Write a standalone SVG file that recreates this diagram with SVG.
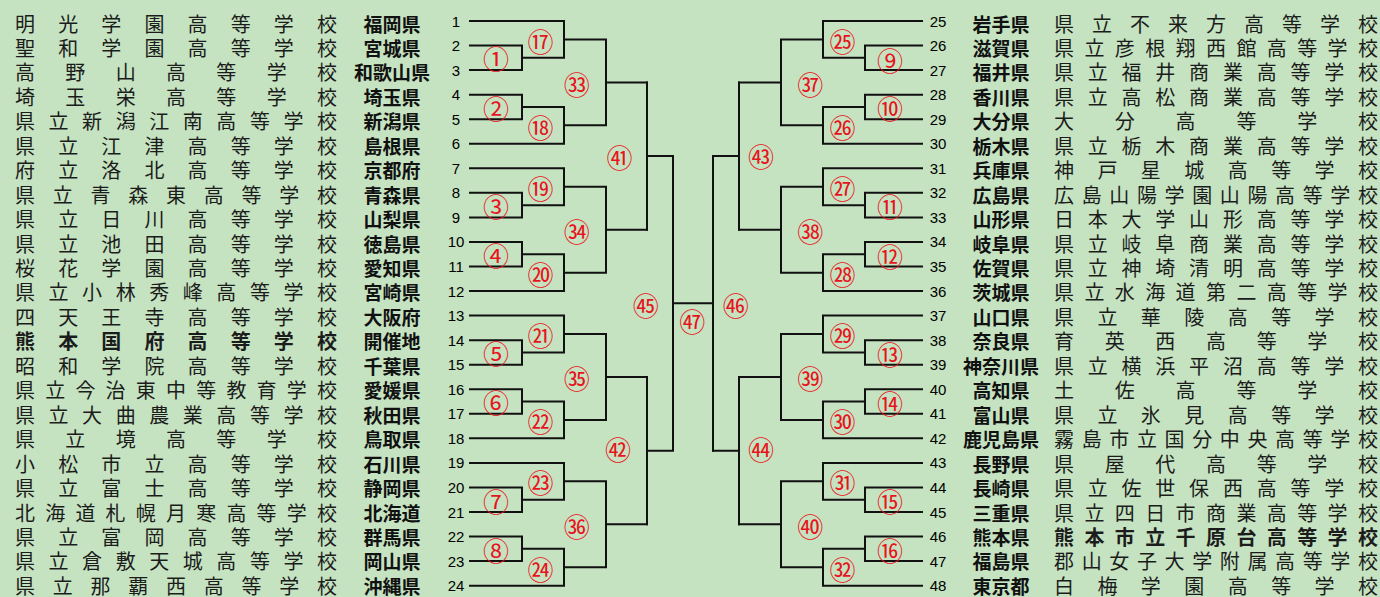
<svg xmlns="http://www.w3.org/2000/svg" width="1380" height="597" viewBox="0 0 1380 597">
<style>
.bg{fill:#c5e3c1}
.s{font-family:"Noto Sans CJK JP","Noto Sans CJK SC",sans-serif;font-size:20px;fill:#1c1c1c;dominant-baseline:central}
.b{font-weight:700}
.p{font-family:"Noto Sans CJK JP","Noto Sans CJK SC",sans-serif;font-size:19px;font-weight:700;fill:#111;text-anchor:middle;dominant-baseline:central}
.n{font-family:"Liberation Sans",Arial,sans-serif;font-size:15px;fill:#000;text-anchor:middle;dominant-baseline:central}
.m{font-family:"Noto Sans CJK JP","Noto Sans CJK SC",sans-serif;font-size:26px;fill:#e8131c;text-anchor:middle;dominant-baseline:central}
.ln{fill:none;stroke:#111;stroke-width:2;stroke-linecap:square}
</style>
<rect class="bg" x="0" y="0" width="1380" height="597"/>
<g id="connectors" class="ln">
<path d="M470,45.55H522V70.1H470M522,57.83H564M470,21H564V57.83M564,39.41H606M470,94.65H522V119.2H470M522,106.93H564M470,143.75H564V106.93M564,125.34H606M606,39.41V125.34M606,82.38H647"/>
<path d="M470,192.85H522V217.4H470M522,205.13H564M470,168.3H564V205.13M564,186.71H606M470,241.95H522V266.5H470M522,254.23H564M470,291.05H564V254.23M564,272.64H606M606,186.71V272.64M606,229.68H647"/>
<path d="M470,340.15H522V364.7H470M522,352.43H564M470,315.6H564V352.43M564,334.01H606M470,389.25H522V413.8H470M522,401.53H564M470,438.35H564V401.53M564,419.94H606M606,334.01V419.94M606,376.98H647"/>
<path d="M470,487.45H522V512H470M522,499.73H564M470,462.9H564V499.73M564,481.31H606M470,536.55H522V561.1H470M522,548.83H564M470,585.65H564V548.83M564,567.24H606M606,481.31V567.24M606,524.28H647"/>
<path d="M647,82.38V229.68M647,156.03H673M647,376.98V524.28M647,450.63H673M673,156.03V450.63M673,303.33H713M713,156.03V450.63"/>
<path d="M922,45.55H865V70.1H922M865,57.83H823M922,21H823V57.83M823,39.41H781M922,94.65H865V119.2H922M865,106.93H823M922,143.75H823V106.93M823,125.34H781M781,39.41V125.34M781,82.38H739"/>
<path d="M922,192.85H865V217.4H922M865,205.13H823M922,168.3H823V205.13M823,186.71H781M922,241.95H865V266.5H922M865,254.23H823M922,291.05H823V254.23M823,272.64H781M781,186.71V272.64M781,229.68H739"/>
<path d="M922,340.15H865V364.7H922M865,352.43H823M922,315.6H823V352.43M823,334.01H781M922,389.25H865V413.8H922M865,401.53H823M922,438.35H823V401.53M823,419.94H781M781,334.01V419.94M781,376.98H739"/>
<path d="M922,487.45H865V512H922M865,499.73H823M922,462.9H823V499.73M823,481.31H781M922,536.55H865V561.1H922M865,548.83H823M922,585.65H823V548.83M823,567.24H781M781,481.31V567.24M781,524.28H739"/>
<path d="M739,82.38V229.68M739,156.03H713M739,376.98V524.28M739,450.63H713"/>
</g>
<g id="teams-left">
<g id="t1"><text class="s" x="15" y="23" textLength="322" lengthAdjust="spacing">明光学園高等学校</text><text class="p" x="392" y="23">福岡県</text><text class="n" x="456" y="21">1</text></g>
<g id="t2"><text class="s" x="15" y="47.45" textLength="322" lengthAdjust="spacing">聖和学園高等学校</text><text class="p" x="392" y="47.45">宮城県</text><text class="n" x="456" y="45.55">2</text></g>
<g id="t3"><text class="s" x="15" y="71.9" textLength="322" lengthAdjust="spacing">高野山高等学校</text><text class="p" x="392" y="71.9">和歌山県</text><text class="n" x="456" y="70.1">3</text></g>
<g id="t4"><text class="s" x="15" y="96.35" textLength="322" lengthAdjust="spacing">埼玉栄高等学校</text><text class="p" x="392" y="96.35">埼玉県</text><text class="n" x="456" y="94.65">4</text></g>
<g id="t5"><text class="s" x="15" y="120.8" textLength="322" lengthAdjust="spacing">県立新潟江南高等学校</text><text class="p" x="392" y="120.8">新潟県</text><text class="n" x="456" y="119.2">5</text></g>
<g id="t6"><text class="s" x="15" y="145.25" textLength="322" lengthAdjust="spacing">県立江津高等学校</text><text class="p" x="392" y="145.25">島根県</text><text class="n" x="456" y="143.75">6</text></g>
<g id="t7"><text class="s" x="15" y="169.7" textLength="322" lengthAdjust="spacing">府立洛北高等学校</text><text class="p" x="392" y="169.7">京都府</text><text class="n" x="456" y="168.3">7</text></g>
<g id="t8"><text class="s" x="15" y="194.15" textLength="322" lengthAdjust="spacing">県立青森東高等学校</text><text class="p" x="392" y="194.15">青森県</text><text class="n" x="456" y="192.85">8</text></g>
<g id="t9"><text class="s" x="15" y="218.6" textLength="322" lengthAdjust="spacing">県立日川高等学校</text><text class="p" x="392" y="218.6">山梨県</text><text class="n" x="456" y="217.4">9</text></g>
<g id="t10"><text class="s" x="15" y="243.05" textLength="322" lengthAdjust="spacing">県立池田高等学校</text><text class="p" x="392" y="243.05">徳島県</text><text class="n" x="456" y="241.95">10</text></g>
<g id="t11"><text class="s" x="15" y="267.5" textLength="322" lengthAdjust="spacing">桜花学園高等学校</text><text class="p" x="392" y="267.5">愛知県</text><text class="n" x="456" y="266.5">11</text></g>
<g id="t12"><text class="s" x="15" y="291.95" textLength="322" lengthAdjust="spacing">県立小林秀峰高等学校</text><text class="p" x="392" y="291.95">宮崎県</text><text class="n" x="456" y="291.05">12</text></g>
<g id="t13"><text class="s" x="15" y="316.4" textLength="322" lengthAdjust="spacing">四天王寺高等学校</text><text class="p" x="392" y="316.4">大阪府</text><text class="n" x="456" y="315.6">13</text></g>
<g id="t14"><text class="s b" x="15" y="340.85" textLength="322" lengthAdjust="spacing">熊本国府高等学校</text><text class="p" x="392" y="340.85">開催地</text><text class="n" x="456" y="340.15">14</text></g>
<g id="t15"><text class="s" x="15" y="365.3" textLength="322" lengthAdjust="spacing">昭和学院高等学校</text><text class="p" x="392" y="365.3">千葉県</text><text class="n" x="456" y="364.7">15</text></g>
<g id="t16"><text class="s" x="15" y="389.75" textLength="322" lengthAdjust="spacing">県立今治東中等教育学校</text><text class="p" x="392" y="389.75">愛媛県</text><text class="n" x="456" y="389.25">16</text></g>
<g id="t17"><text class="s" x="15" y="414.2" textLength="322" lengthAdjust="spacing">県立大曲農業高等学校</text><text class="p" x="392" y="414.2">秋田県</text><text class="n" x="456" y="413.8">17</text></g>
<g id="t18"><text class="s" x="15" y="438.65" textLength="322" lengthAdjust="spacing">県立境高等学校</text><text class="p" x="392" y="438.65">鳥取県</text><text class="n" x="456" y="438.35">18</text></g>
<g id="t19"><text class="s" x="15" y="463.1" textLength="322" lengthAdjust="spacing">小松市立高等学校</text><text class="p" x="392" y="463.1">石川県</text><text class="n" x="456" y="462.9">19</text></g>
<g id="t20"><text class="s" x="15" y="487.55" textLength="322" lengthAdjust="spacing">県立富士高等学校</text><text class="p" x="392" y="487.55">静岡県</text><text class="n" x="456" y="487.45">20</text></g>
<g id="t21"><text class="s" x="15" y="512" textLength="322" lengthAdjust="spacing">北海道札幌月寒高等学校</text><text class="p" x="392" y="512">北海道</text><text class="n" x="456" y="512">21</text></g>
<g id="t22"><text class="s" x="15" y="536.45" textLength="322" lengthAdjust="spacing">県立富岡高等学校</text><text class="p" x="392" y="536.45">群馬県</text><text class="n" x="456" y="536.55">22</text></g>
<g id="t23"><text class="s" x="15" y="560.9" textLength="322" lengthAdjust="spacing">県立倉敷天城高等学校</text><text class="p" x="392" y="560.9">岡山県</text><text class="n" x="456" y="561.1">23</text></g>
<g id="t24"><text class="s" x="15" y="585.35" textLength="322" lengthAdjust="spacing">県立那覇西高等学校</text><text class="p" x="392" y="585.35">沖縄県</text><text class="n" x="456" y="585.65">24</text></g>
</g>
<g id="teams-right">
<g id="t25"><text class="n" x="938" y="21">25</text><text class="p" x="1001" y="23">岩手県</text><text class="s" x="1054" y="23" textLength="324" lengthAdjust="spacing">県立不来方高等学校</text></g>
<g id="t26"><text class="n" x="938" y="45.55">26</text><text class="p" x="1001" y="47.45">滋賀県</text><text class="s" x="1054" y="47.45" textLength="324" lengthAdjust="spacing">県立彦根翔西館高等学校</text></g>
<g id="t27"><text class="n" x="938" y="70.1">27</text><text class="p" x="1001" y="71.9">福井県</text><text class="s" x="1054" y="71.9" textLength="324" lengthAdjust="spacing">県立福井商業高等学校</text></g>
<g id="t28"><text class="n" x="938" y="94.65">28</text><text class="p" x="1001" y="96.35">香川県</text><text class="s" x="1054" y="96.35" textLength="324" lengthAdjust="spacing">県立高松商業高等学校</text></g>
<g id="t29"><text class="n" x="938" y="119.2">29</text><text class="p" x="1001" y="120.8">大分県</text><text class="s" x="1054" y="120.8" textLength="324" lengthAdjust="spacing">大分高等学校</text></g>
<g id="t30"><text class="n" x="938" y="143.75">30</text><text class="p" x="1001" y="145.25">栃木県</text><text class="s" x="1054" y="145.25" textLength="324" lengthAdjust="spacing">県立栃木商業高等学校</text></g>
<g id="t31"><text class="n" x="938" y="168.3">31</text><text class="p" x="1001" y="169.7">兵庫県</text><text class="s" x="1054" y="169.7" textLength="324" lengthAdjust="spacing">神戸星城高等学校</text></g>
<g id="t32"><text class="n" x="938" y="192.85">32</text><text class="p" x="1001" y="194.15">広島県</text><text class="s" x="1054" y="194.15" textLength="324" lengthAdjust="spacing">広島山陽学園山陽高等学校</text></g>
<g id="t33"><text class="n" x="938" y="217.4">33</text><text class="p" x="1001" y="218.6">山形県</text><text class="s" x="1054" y="218.6" textLength="324" lengthAdjust="spacing">日本大学山形高等学校</text></g>
<g id="t34"><text class="n" x="938" y="241.95">34</text><text class="p" x="1001" y="243.05">岐阜県</text><text class="s" x="1054" y="243.05" textLength="324" lengthAdjust="spacing">県立岐阜商業高等学校</text></g>
<g id="t35"><text class="n" x="938" y="266.5">35</text><text class="p" x="1001" y="267.5">佐賀県</text><text class="s" x="1054" y="267.5" textLength="324" lengthAdjust="spacing">県立神埼清明高等学校</text></g>
<g id="t36"><text class="n" x="938" y="291.05">36</text><text class="p" x="1001" y="291.95">茨城県</text><text class="s" x="1054" y="291.95" textLength="324" lengthAdjust="spacing">県立水海道第二高等学校</text></g>
<g id="t37"><text class="n" x="938" y="315.6">37</text><text class="p" x="1001" y="316.4">山口県</text><text class="s" x="1054" y="316.4" textLength="324" lengthAdjust="spacing">県立華陵高等学校</text></g>
<g id="t38"><text class="n" x="938" y="340.15">38</text><text class="p" x="1001" y="340.85">奈良県</text><text class="s" x="1054" y="340.85" textLength="324" lengthAdjust="spacing">育英西高等学校</text></g>
<g id="t39"><text class="n" x="938" y="364.7">39</text><text class="p" x="1001" y="365.3">神奈川県</text><text class="s" x="1054" y="365.3" textLength="324" lengthAdjust="spacing">県立横浜平沼高等学校</text></g>
<g id="t40"><text class="n" x="938" y="389.25">40</text><text class="p" x="1001" y="389.75">高知県</text><text class="s" x="1054" y="389.75" textLength="324" lengthAdjust="spacing">土佐高等学校</text></g>
<g id="t41"><text class="n" x="938" y="413.8">41</text><text class="p" x="1001" y="414.2">富山県</text><text class="s" x="1054" y="414.2" textLength="324" lengthAdjust="spacing">県立氷見高等学校</text></g>
<g id="t42"><text class="n" x="938" y="438.35">42</text><text class="p" x="1001" y="438.65">鹿児島県</text><text class="s" x="1054" y="438.65" textLength="324" lengthAdjust="spacing">霧島市立国分中央高等学校</text></g>
<g id="t43"><text class="n" x="938" y="462.9">43</text><text class="p" x="1001" y="463.1">長野県</text><text class="s" x="1054" y="463.1" textLength="324" lengthAdjust="spacing">県屋代高等学校</text></g>
<g id="t44"><text class="n" x="938" y="487.45">44</text><text class="p" x="1001" y="487.55">長崎県</text><text class="s" x="1054" y="487.55" textLength="324" lengthAdjust="spacing">県立佐世保西高等学校</text></g>
<g id="t45"><text class="n" x="938" y="512">45</text><text class="p" x="1001" y="512">三重県</text><text class="s" x="1054" y="512" textLength="324" lengthAdjust="spacing">県立四日市商業高等学校</text></g>
<g id="t46"><text class="n" x="938" y="536.55">46</text><text class="p" x="1001" y="536.45">熊本県</text><text class="s b" x="1054" y="536.45" textLength="324" lengthAdjust="spacing">熊本市立千原台高等学校</text></g>
<g id="t47"><text class="n" x="938" y="561.1">47</text><text class="p" x="1001" y="560.9">福島県</text><text class="s" x="1054" y="560.9" textLength="324" lengthAdjust="spacing">郡山女子大学附属高等学校</text></g>
<g id="t48"><text class="n" x="938" y="585.65">48</text><text class="p" x="1001" y="585.35">東京都</text><text class="s" x="1054" y="585.35" textLength="324" lengthAdjust="spacing">白梅学園高等学校</text></g>
</g>
<g id="matches">
<g id="m1"><text class="m" x="496" y="57.8">①</text></g>
<g id="m2"><text class="m" x="496" y="107">②</text></g>
<g id="m3"><text class="m" x="496" y="205">③</text></g>
<g id="m4"><text class="m" x="496" y="254">④</text></g>
<g id="m5"><text class="m" x="496" y="352.4">⑤</text></g>
<g id="m6"><text class="m" x="496" y="401.5">⑥</text></g>
<g id="m7"><text class="m" x="496" y="500">⑦</text></g>
<g id="m8"><text class="m" x="496" y="549">⑧</text></g>
<g id="m9"><text class="m" x="890" y="59">⑨</text></g>
<g id="m10"><text class="m" x="890" y="107">⑩</text></g>
<g id="m11"><text class="m" x="890" y="205">⑪</text></g>
<g id="m12"><text class="m" x="890" y="255">⑫</text></g>
<g id="m13"><text class="m" x="890" y="353">⑬</text></g>
<g id="m14"><text class="m" x="890" y="402">⑭</text></g>
<g id="m15"><text class="m" x="890" y="500">⑮</text></g>
<g id="m16"><text class="m" x="890" y="549">⑯</text></g>
<g id="m17"><text class="m" x="540.5" y="40.5">⑰</text></g>
<g id="m18"><text class="m" x="540.5" y="126">⑱</text></g>
<g id="m19"><text class="m" x="540.5" y="187.5">⑲</text></g>
<g id="m20"><text class="m" x="540.5" y="273.3">⑳</text></g>
<g id="m21"><text class="m" x="540.5" y="334">㉑</text></g>
<g id="m22"><text class="m" x="540.5" y="420.5">㉒</text></g>
<g id="m23"><text class="m" x="540.5" y="481.5">㉓</text></g>
<g id="m24"><text class="m" x="540.5" y="568">㉔</text></g>
<g id="m25"><text class="m" x="842.5" y="40">㉕</text></g>
<g id="m26"><text class="m" x="842.5" y="126">㉖</text></g>
<g id="m27"><text class="m" x="842.5" y="187.5">㉗</text></g>
<g id="m28"><text class="m" x="842.5" y="273.3">㉘</text></g>
<g id="m29"><text class="m" x="842.5" y="334">㉙</text></g>
<g id="m30"><text class="m" x="842.5" y="420.5">㉚</text></g>
<g id="m31"><text class="m" x="842.5" y="481">㉛</text></g>
<g id="m32"><text class="m" x="842.5" y="568">㉜</text></g>
<g id="m33"><text class="m" x="576.7" y="83">㉝</text></g>
<g id="m34"><text class="m" x="576.7" y="230">㉞</text></g>
<g id="m35"><text class="m" x="576.7" y="377.5">㉟</text></g>
<g id="m36"><text class="m" x="576.7" y="525">㊱</text></g>
<g id="m37"><text class="m" x="810.3" y="83">㊲</text></g>
<g id="m38"><text class="m" x="810.3" y="230">㊳</text></g>
<g id="m39"><text class="m" x="810.3" y="377.5">㊴</text></g>
<g id="m40"><text class="m" x="810.3" y="525.7">㊵</text></g>
<g id="m41"><text class="m" x="619.5" y="156">㊶</text></g>
<g id="m42"><text class="m" x="618" y="448.5">㊷</text></g>
<g id="m43"><text class="m" x="761" y="155">㊸</text></g>
<g id="m44"><text class="m" x="761" y="448.5">㊹</text></g>
<g id="m45"><text class="m" x="645.7" y="304">㊺</text></g>
<g id="m46"><text class="m" x="735.7" y="304">㊻</text></g>
<g id="m47"><text class="m" x="692.3" y="320.7">㊼</text></g>
</g>
</svg>
